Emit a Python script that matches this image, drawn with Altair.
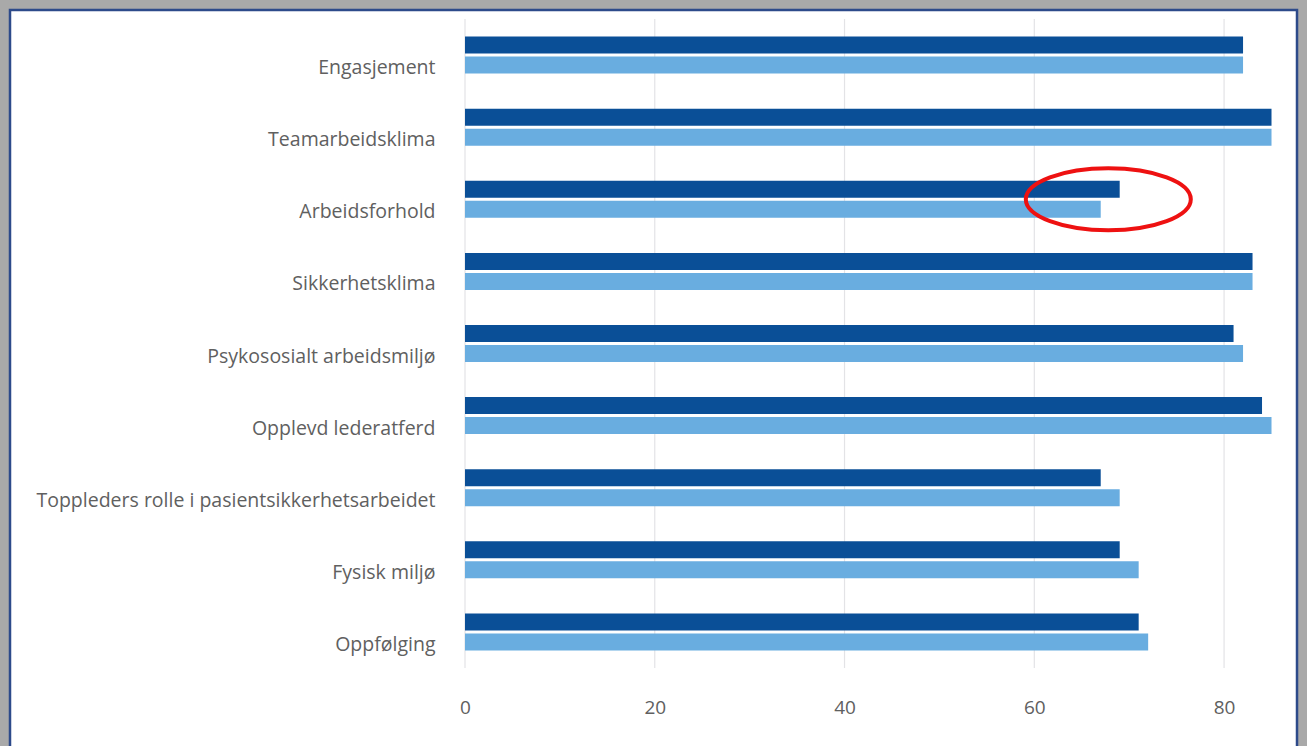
import altair as alt
import pandas as pd

categories = ["Engasjement", "Teamarbeidsklima", "Arbeidsforhold", "Sikkerhetsklima",
              "Psykososialt arbeidsmiljø", "Opplevd lederatferd",
              "Toppleders rolle i pasientsikkerhetsarbeidet", "Fysisk miljø", "Oppfølging"]
series_names = ["A", "B"]
dark_values = [82, 85, 69, 83, 81, 84, 67, 69, 71]
light_values = [82, 85, 67, 83, 82, 85, 69, 71, 72]
tick_values = [0, 20, 40, 60, 80]
highlight_category = "Arbeidsforhold"
highlight_x = 67.8

rows = []
for c, d, l in zip(categories, dark_values, light_values):
    rows.append({"cat": c, "series": series_names[0], "value": d})
    rows.append({"cat": c, "series": series_names[1], "value": l})
df = pd.DataFrame(rows)

W, H = 816, 649
PL, PT = 465, 19
PR, PB = 1307 - PL - W, 746 - PT - H

font = "Open Sans"
x_scale = alt.Scale(domain=[0, 86], nice=False, zero=True)

frame = alt.Chart(pd.DataFrame({"k": [0]})).mark_rect(
    fill="white", stroke="#2d4a8a", strokeWidth=2.5
).encode(
    x=alt.value(10 - PL), x2=alt.value(1297 - PL),
    y=alt.value(10 - PT), y2=alt.value(760 - PT)
)

grid = alt.Chart(pd.DataFrame({"t": tick_values})).mark_rule(
    color="#e3e3e6", strokeWidth=1.2
).encode(x=alt.X("t:Q", scale=x_scale))

bars = alt.Chart(df).mark_bar().encode(
    x=alt.X("value:Q", scale=x_scale,
            axis=alt.Axis(values=tick_values, grid=False, domain=False, ticks=False,
                          labelPadding=30, labelFontSize=19, labelColor="#606060",
                          labelFont=font, labelFlush=False, title=None, zindex=1)),
    y=alt.Y("cat:N", sort=categories,
            scale=alt.Scale(paddingInner=0.487, paddingOuter=0.2435),
            axis=alt.Axis(domain=False, ticks=False, labelPadding=30, labelFontSize=19.5,
                          labelColor="#606060", labelFont=font, labelOffset=13,
                          labelLimit=500, title=None, zindex=1)),
    yOffset=alt.YOffset("series:N", sort=series_names,
                        scale=alt.Scale(paddingInner=0.15, paddingOuter=0)),
    color=alt.Color("series:N", scale=alt.Scale(domain=series_names,
                                                range=["#0a4f97", "#69ade0"]),
                    legend=None),
)

ellipse = alt.Chart(pd.DataFrame({"cat": [highlight_category], "v": [highlight_x]})).mark_point(
    shape="M -1 0 A 1 0.376 0 1 0 1 0 A 1 0.376 0 1 0 -1 0 Z",
    size=165 * 165, filled=False, stroke="#ee1111", strokeWidth=4, opacity=1
).encode(
    x=alt.X("v:Q", scale=x_scale),
    y=alt.Y("cat:N", sort=categories),
)

chart = alt.layer(frame, grid, bars, ellipse).properties(
    width=W, height=H,
    padding={"left": PL, "top": PT, "right": PR, "bottom": PB},
    autosize=alt.AutoSizeParams(type="none"),
    background="#a9a9a9",
).configure_view(stroke=None)

chart.save("out.html", embed_options={"renderer": "svg", "actions": False})
